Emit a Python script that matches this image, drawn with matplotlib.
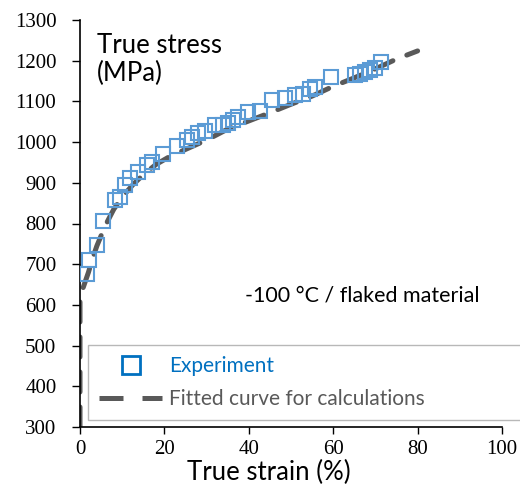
import matplotlib
matplotlib.use("Agg")
import matplotlib.pyplot as plt
from matplotlib.lines import Line2D

# Experimental data (true strain %, true stress MPa)
exp_strain = [1.7, 2.1, 4.1, 5.5, 8.3, 9.5, 10.7, 11.8, 13.8, 15.8, 17.0, 19.7, 23.1,
              25.3, 26.5, 28.0, 29.6, 32.0, 34.0, 35.1, 36.3, 37.5, 39.9, 42.7, 45.4,
              48.6, 50.9, 52.9, 54.5, 55.7, 59.5, 65.2, 66.4, 67.5, 68.7, 69.9, 71.3]
exp_stress = [676, 710, 747, 807, 858, 866, 895, 911, 927, 944, 952, 971, 991,
              1005, 1013, 1022, 1028, 1042, 1042, 1048, 1054, 1061, 1073, 1077, 1103,
              1108, 1116, 1117, 1130, 1136, 1161, 1165, 1167, 1173, 1177, 1183, 1196]

# Fitted curve
fit_strain = [0, 0, 0.5, 1, 2, 3, 4, 5, 6.5, 8, 10, 12.5, 15, 18, 21, 25, 30, 35,
              40, 45, 50, 55, 60, 65, 70, 75, 80]
fit_stress = [300, 620, 635, 650, 680, 715, 745, 770, 805, 835, 865, 895, 920, 945,
              963, 982, 1005, 1032, 1052, 1072, 1093, 1113, 1137, 1158, 1180, 1204, 1224]

x_ticks = [0, 20, 40, 60, 80, 100]
y_ticks = [300, 400, 500, 600, 700, 800, 900, 1000, 1100, 1200, 1300]

exp_color = "#5B9BD5"
leg_blue = "#0070C0"
fit_color = "#595959"
sans = ["Lato", "DejaVu Sans"]
serif = ["Liberation Serif", "DejaVu Serif"]

fig = plt.figure(figsize=(5.2, 4.95), dpi=100)
ax = fig.add_axes([80 / 520, (495 - 427) / 495, 422 / 520, 407 / 495])

ax.plot(fit_strain, fit_stress, color=fit_color, lw=3.6, dashes=(4.0, 3.0),
        dash_capstyle="round", solid_capstyle="round", zorder=2)
ax.plot(exp_strain, exp_stress, linestyle="none", marker="s", markersize=10,
        markerfacecolor="none", markeredgecolor=exp_color, markeredgewidth=1.5, zorder=3)

ax.set_xlim(0, 100)
ax.set_ylim(300, 1300)
ax.set_xticks(x_ticks)
ax.set_yticks(y_ticks)
for s in ["top", "right"]:
    ax.spines[s].set_visible(False)
for s in ["left", "bottom"]:
    ax.spines[s].set_linewidth(1.2)
    ax.spines[s].set_color("black")
ax.tick_params(axis="y", direction="out", length=6, width=1.0, pad=11, labelsize=15)
ax.tick_params(axis="x", direction="out", length=5, width=1.0, pad=4, labelsize=15)
for lab in ax.get_xticklabels() + ax.get_yticklabels():
    lab.set_family(serif)

ax.set_xlabel("True strain (%)", fontsize=18.5, family=sans)
ax.xaxis.label.set_va("baseline")
ax.xaxis.set_label_coords((268.5 - 80) / 422, (427 - 480) / 407)

ax.text((97 - 80) / 422, (427 - 81) / 407, "True stress\n(MPa)", transform=ax.transAxes,
        fontsize=18.5, family=sans, ha="left", va="baseline", linespacing=1.15)
ax.text((245 - 80) / 422, (427 - 302) / 407, "-100 °C / flaked material",
        transform=ax.transAxes, fontsize=15.5, family=sans, ha="left", va="baseline")

handles = [
    Line2D([], [], linestyle="none", marker="s", markersize=12.5, markerfacecolor="none",
           markeredgecolor=leg_blue, markeredgewidth=2),
    Line2D([], [], color=fit_color, lw=3.6, dashes=(4.8, 3.8)),
]
leg = fig.legend(handles, ["Experiment", "Fitted curve for calculations"],
                 loc="upper left",
                 bbox_to_anchor=(88 / 520, (495 - 345) / 495, 500 / 520, 0),
                 mode="expand", borderaxespad=0, frameon=True, fancybox=False,
                 edgecolor="#a6a6a6", handlelength=3.0, handletextpad=0.35,
                 labelspacing=0.6, borderpad=0.55, prop={"family": sans, "size": 15})
leg.get_frame().set_linewidth(1.0)
leg.get_texts()[0].set_color(leg_blue)
leg.get_texts()[1].set_color(fit_color)

fig.savefig("out.png", dpi=100)
